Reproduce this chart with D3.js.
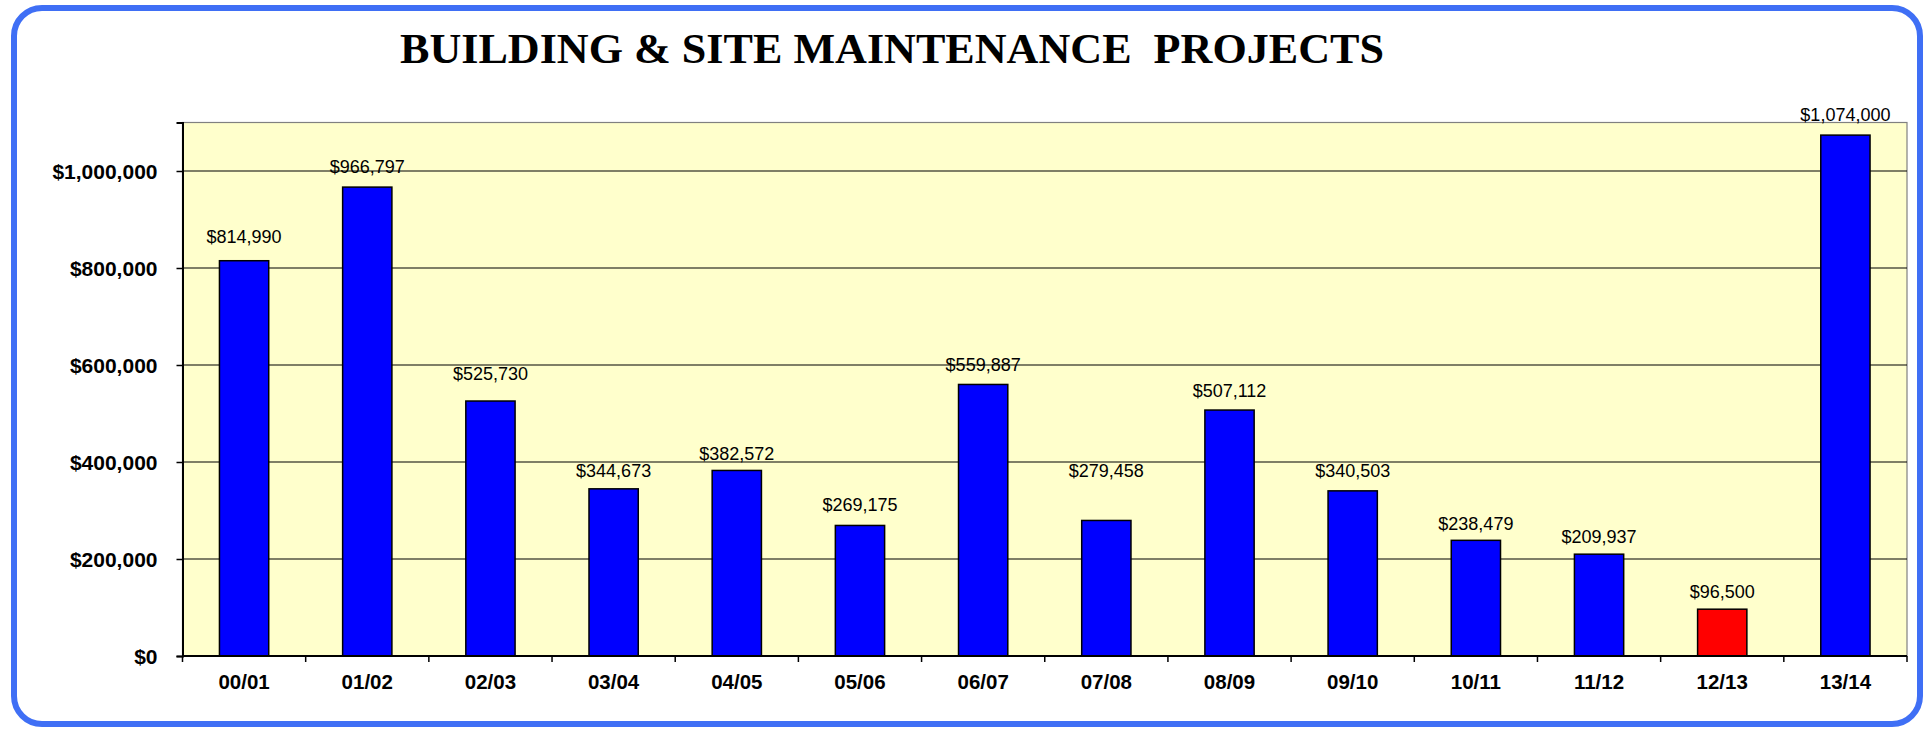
<!DOCTYPE html>
<html>
<head>
<meta charset="utf-8">
<script src="https://cdn.jsdelivr.net/npm/d3@7"></script>
<style>
  body { margin: 0; background: #fff; }
  text { fill: #000; }
</style>
</head>
<body>
<div id="chart"></div>
<script>
// data
var years = ['00/01', '01/02', '02/03', '03/04', '04/05', '05/06', '06/07',
  '07/08', '08/09', '09/10', '10/11', '11/12', '12/13', '13/14'];
var amounts = [814990, 966797, 525730, 344673, 382572, 269175, 559887,
  279458, 507112, 340503, 238479, 209937, 96500, 1074000];
var yTicks = [0, 200000, 400000, 600000, 800000, 1000000];
var highlightYear = '12/13';

// label lift above bar top (labels were nudged by hand in the original)
var labelLift = [18, 14, 21, 12, 10, 14, 13, 43, 13, 14, 10, 11.5, 11, 14];

var W = 1927, H = 729;
// plot area (note: "top" is reserved on window, so prefix everything)
var pL = 182.5, pR = 1907, pT = 122.5, pB = 656;

var svg = d3.select('#chart')
  .append('svg')
  .attr('width', W)
  .attr('height', H);

// frame
svg.append('rect')
  .attr('x', 14)
  .attr('y', 8)
  .attr('width', 1906)
  .attr('height', 716)
  .attr('rx', 28)
  .attr('fill', '#fff')
  .attr('stroke', '#3f6ff5')
  .attr('stroke-width', 6);

// title
svg.append('text')
  .attr('x', 400)
  .attr('y', 63)
  .attr('textLength', 984)
  .attr('lengthAdjust', 'spacingAndGlyphs')
  .style('font-family', '"Times New Roman", "Liberation Serif", serif')
  .style('font-weight', 'bold')
  .style('font-size', '42px')
  .style('white-space', 'pre')
  .text('BUILDING & SITE MAINTENANCE  PROJECTS');

// scales
var x = d3.scaleBand()
  .domain(years)
  .range([pL, pR])
  .paddingInner(0.6)
  .paddingOuter(0.3);

var y = d3.scaleLinear()
  .domain([0, 1100000])
  .range([pB, pT]);

// plot area
svg.append('rect')
  .attr('x', pL)
  .attr('y', pT)
  .attr('width', pR - pL)
  .attr('height', pB - pT)
  .attr('fill', '#ffffcc')
  .attr('stroke', '#808080')
  .attr('stroke-width', 1.2);

// grid
svg.append('g')
  .selectAll('line')
  .data(yTicks.filter(function (d) { return d > 0; }))
  .join('line')
  .attr('x1', pL)
  .attr('x2', pR)
  .attr('y1', function (d) { return y(d); })
  .attr('y2', function (d) { return y(d); })
  .attr('stroke', '#000')
  .attr('stroke-width', 1.2);

// bars
svg.append('g')
  .selectAll('rect')
  .data(years)
  .join('rect')
  .attr('x', function (d) { return x(d); })
  .attr('y', function (d, i) { return y(amounts[i]); })
  .attr('width', x.bandwidth())
  .attr('height', function (d, i) { return pB - y(amounts[i]); })
  .attr('fill', function (d) { return d === highlightYear ? '#ff0000' : '#0000ff'; })
  .attr('stroke', '#000')
  .attr('stroke-width', 1.5);

// value labels
var fmt = d3.format('$,');
svg.append('g')
  .selectAll('text')
  .data(years)
  .join('text')
  .attr('x', function (d) { return x(d) + x.bandwidth() / 2; })
  .attr('y', function (d, i) { return y(amounts[i]) - labelLift[i]; })
  .attr('text-anchor', 'middle')
  .style('font-family', 'Arial, "Liberation Sans", sans-serif')
  .style('font-size', '18px')
  .text(function (d, i) { return fmt(amounts[i]); });

// y axis
var yAxis = svg.append('g')
  .attr('transform', 'translate(' + pL + ',0)')
  .call(d3.axisLeft(y).tickValues(yTicks).tickFormat(fmt).tickSize(6).tickPadding(19));
yAxis.select('.domain').attr('stroke', '#000').attr('stroke-width', 2);
yAxis.selectAll('.tick line').attr('stroke', '#000').attr('stroke-width', 1.5);
yAxis.selectAll('.tick text')
  .attr('dy', '0.36em')
  .style('font-family', 'Arial, "Liberation Sans", sans-serif')
  .style('font-weight', 'bold')
  .style('font-size', '21px')
  .style('fill', '#000');

// x axis: line, ticks at category boundaries, labels centered
var gx = svg.append('g');
gx.append('line')
  .attr('x1', pL)
  .attr('x2', pR)
  .attr('y1', pB)
  .attr('y2', pB)
  .attr('stroke', '#000')
  .attr('stroke-width', 2);
gx.selectAll('line.tick')
  .data(d3.range(years.length + 1))
  .join('line')
  .attr('class', 'tick')
  .attr('x1', function (i) { return pL + i * x.step(); })
  .attr('x2', function (i) { return pL + i * x.step(); })
  .attr('y1', pB)
  .attr('y2', pB + 6)
  .attr('stroke', '#000')
  .attr('stroke-width', 1.5);
gx.selectAll('text')
  .data(years)
  .join('text')
  .attr('x', function (d) { return x(d) + x.bandwidth() / 2; })
  .attr('y', 689)
  .attr('text-anchor', 'middle')
  .style('font-family', 'Arial, "Liberation Sans", sans-serif')
  .style('font-weight', 'bold')
  .style('font-size', '20.5px')
  .text(function (d) { return d; });
</script>
</body>
</html>
